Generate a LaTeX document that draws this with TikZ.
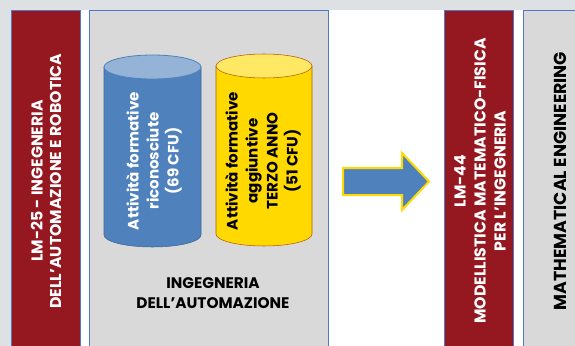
\documentclass[tikz,border=0pt]{standalone}
\usepackage{fontspec}
\setmainfont{Poppins}
\usetikzlibrary{positioning}
\definecolor{bordeaux}{RGB}{149,23,32}
\definecolor{grigio}{RGB}{217,217,217}
\definecolor{sfondo}{RGB}{221,225,228}
\definecolor{bordo}{RGB}{80,120,200}
\definecolor{blu}{RGB}{79,129,189}
\definecolor{blucap}{RGB}{149,179,215}
\definecolor{giallo}{RGB}{255,217,0}
\definecolor{giallocap}{RGB}{255,232,100}
\tikzset{
  colonna/.style={draw=bordo, line width=0.6pt},
  titolo/.style={rotate=90, align=center, text=white,
    font=\bfseries\fontsize{11.8}{13.8}\selectfont},
  cilindro/.style={rotate=90, align=center,
    font=\bfseries\fontsize{11.3}{15}\selectfont}
}

\begin{document}
\begin{tikzpicture}[x=0.75pt,y=-0.75pt]
\useasboundingbox (0,0) rectangle (575,346);
% sfondo
\fill[sfondo] (0,0) rectangle (575,346);
\fill[white] (80,10) rectangle (575,346);

% colonne
\draw[colonna, fill=bordeaux] (11,348) -- (11,10) -- (80,10) -- (80,348);
\draw[colonna, fill=grigio] (89,348) -- (89,10) -- (328,10) -- (328,348);
\draw[colonna, fill=bordeaux] (444,348) -- (444,10) -- (513,10) -- (513,348);
\draw[colonna, fill=grigio] (523,348) -- (523,10) -- (577,10) -- (577,348);

% cilindro blu
\fill[blu] (104,67) -- (104,235) arc[start angle=180, end angle=0, x radius=48.5, y radius=12] -- (201,67) -- cycle;
\draw[blu!80!black, line width=0.4pt] (104,67) -- (104,235) arc[start angle=180, end angle=0, x radius=48.5, y radius=12] -- (201,67);
\draw[blu, fill=blucap, line width=0.6pt] (152.5,67) ellipse[x radius=48.5, y radius=12];

% cilindro giallo
\fill[giallo] (216,66) -- (216,234) arc[start angle=180, end angle=0, x radius=48, y radius=12] -- (312,66) -- cycle;
\draw[orange!70!black, line width=0.4pt] (216,66) -- (216,234) arc[start angle=180, end angle=0, x radius=48, y radius=12] -- (312,66);
\draw[orange!70!black, fill=giallocap, line width=0.4pt] (264,66) ellipse[x radius=48, y radius=12];

% freccia
\draw[fill=blu, draw=giallo, line width=1.5pt, line join=miter]
  (343,168) -- (402,168) -- (402,153) -- (429,181.5) -- (402,210) -- (402,195) -- (343,195) -- cycle;

% testi
\node[titolo] (lm25) at (46,181) {LM-25 - INGEGNERIA\\DELL’AUTOMAZIONE E ROBOTICA};
\node[cilindro, text=white] (riconosciute) at (154,161) {Attività formative\\riconosciute\\(69 CFU)};
\node[cilindro, text=black] (aggiuntive) at (263,161) {Attività formative\\aggiuntive\\TERZO ANNO\\(51 CFU)};
\node[align=center, font=\bfseries\fontsize{11.5}{15}\selectfont] (automazione) at (213,293) {INGEGNERIA\\DELL’AUTOMAZIONE};
\node[titolo, font=\bfseries\fontsize{11.8}{15}\selectfont] (lm44) at (480,181) {LM-44\\MODELLISTICA MATEMATICO-FISICA\\PER L’INGEGNERIA};
\node[titolo, text=black, font=\bfseries\fontsize{13}{15}\selectfont] (mateng) at (560,181) {MATHEMATICAL ENGINEERING};
\end{tikzpicture}
\end{document}
